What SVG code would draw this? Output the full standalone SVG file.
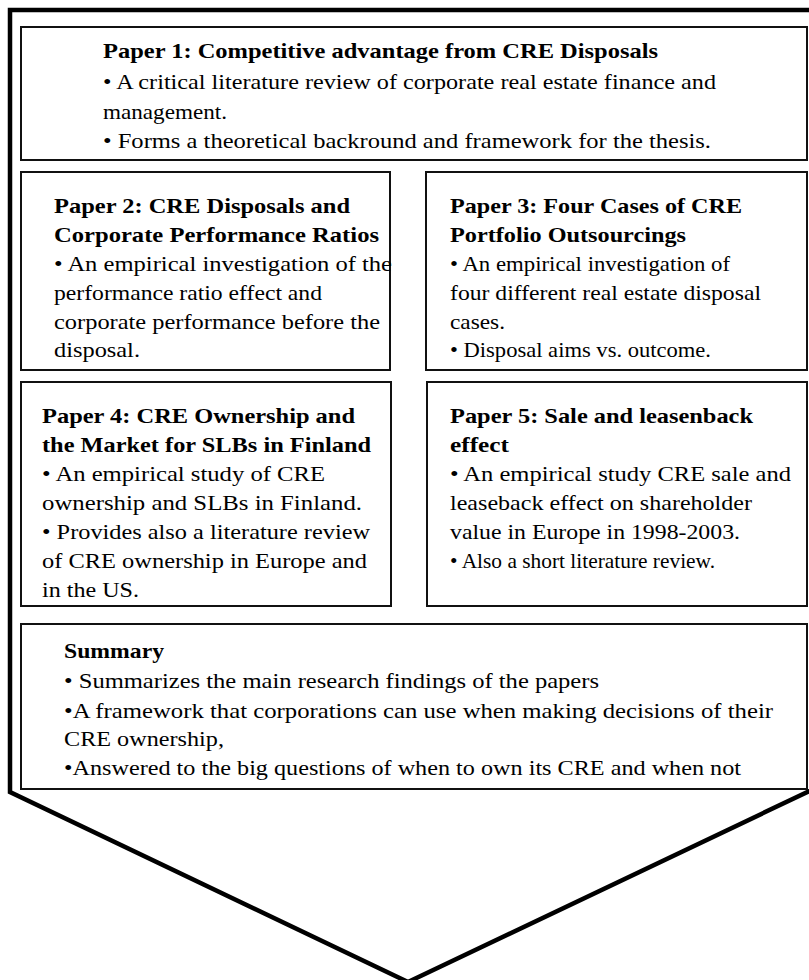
<svg xmlns="http://www.w3.org/2000/svg" width="809" height="980" viewBox="0 0 809 980">
<style>
.box{fill:#fff;stroke:#111;stroke-width:2}
.frame{fill:none;stroke:#000;stroke-width:4.5;stroke-linejoin:miter}
.t{font-family:'Liberation Serif','Times New Roman',Times,serif;font-size:22px;fill:#000}
.b{font-weight:bold}
</style>
<g id="frame"><path class="frame" d="M 820,10 L 10,10 L 10,792 L 408,982 L 820,786"/></g>
<g id="paper1" class="t" font-family="Liberation Serif, serif">
<rect class="box" x="21" y="27" width="786" height="133"/>
<text class="b" x="103" y="58" textLength="555" lengthAdjust="spacingAndGlyphs">Paper 1: Competitive advantage from CRE Disposals</text>
<text x="103" y="89" textLength="613" lengthAdjust="spacingAndGlyphs">• A critical literature review of corporate real estate finance and</text>
<text x="103" y="119" textLength="124" lengthAdjust="spacingAndGlyphs">management.</text>
<text x="103" y="148" textLength="608" lengthAdjust="spacingAndGlyphs">• Forms a theoretical backround and framework for the thesis.</text>
</g>
<g id="paper2" class="t" font-family="Liberation Serif, serif">
<rect class="box" x="21" y="172" width="369" height="198"/>
<text class="b" x="54" y="213" textLength="296" lengthAdjust="spacingAndGlyphs">Paper 2: CRE Disposals and</text>
<text class="b" x="54" y="242" textLength="325" lengthAdjust="spacingAndGlyphs">Corporate Performance Ratios</text>
<text x="54" y="271" textLength="338" lengthAdjust="spacingAndGlyphs">• An empirical investigation of the</text>
<text x="54" y="300" textLength="268" lengthAdjust="spacingAndGlyphs">performance ratio effect and</text>
<text x="54" y="329" textLength="326" lengthAdjust="spacingAndGlyphs">corporate performance before the</text>
<text x="54" y="357" textLength="86" lengthAdjust="spacingAndGlyphs">disposal.</text>
</g>
<g id="paper3" class="t" font-family="Liberation Serif, serif">
<rect class="box" x="426" y="172" width="381" height="198"/>
<text class="b" x="450" y="213" textLength="292" lengthAdjust="spacingAndGlyphs">Paper 3: Four Cases of CRE</text>
<text class="b" x="450" y="242" textLength="236" lengthAdjust="spacingAndGlyphs">Portfolio Outsourcings</text>
<text x="450" y="271" textLength="280" lengthAdjust="spacingAndGlyphs">• An empirical investigation of</text>
<text x="450" y="300" textLength="311" lengthAdjust="spacingAndGlyphs">four different real estate disposal</text>
<text x="450" y="329" textLength="55" lengthAdjust="spacingAndGlyphs">cases.</text>
<text x="450" y="357" textLength="261" lengthAdjust="spacingAndGlyphs">• Disposal aims vs. outcome.</text>
</g>
<g id="paper4" class="t" font-family="Liberation Serif, serif">
<rect class="box" x="21" y="382" width="370" height="224"/>
<text class="b" x="42" y="423" textLength="313" lengthAdjust="spacingAndGlyphs">Paper 4: CRE Ownership and</text>
<text class="b" x="42" y="452" textLength="329" lengthAdjust="spacingAndGlyphs">the Market for SLBs in Finland</text>
<text x="42" y="481" textLength="283" lengthAdjust="spacingAndGlyphs">• An empirical study of CRE</text>
<text x="42" y="510" textLength="320" lengthAdjust="spacingAndGlyphs">ownership and SLBs in Finland.</text>
<text x="42" y="539" textLength="328" lengthAdjust="spacingAndGlyphs">• Provides also a literature review</text>
<text x="42" y="568" textLength="325" lengthAdjust="spacingAndGlyphs">of CRE ownership in Europe and</text>
<text x="42" y="597" textLength="97" lengthAdjust="spacingAndGlyphs">in the US.</text>
</g>
<g id="paper5" class="t" font-family="Liberation Serif, serif">
<rect class="box" x="427" y="382" width="380" height="224"/>
<text class="b" x="450" y="423" textLength="303" lengthAdjust="spacingAndGlyphs">Paper 5: Sale and leasenback</text>
<text class="b" x="450" y="452" textLength="59" lengthAdjust="spacingAndGlyphs">effect</text>
<text x="450" y="481" textLength="341" lengthAdjust="spacingAndGlyphs">• An empirical study CRE sale and</text>
<text x="450" y="510" textLength="302" lengthAdjust="spacingAndGlyphs">leaseback effect on shareholder</text>
<text x="450" y="539" textLength="290" lengthAdjust="spacingAndGlyphs">value in Europe in 1998-2003.</text>
<text x="450" y="568" textLength="265" lengthAdjust="spacingAndGlyphs">• Also a short literature review.</text>
</g>
<g id="summary" class="t" font-family="Liberation Serif, serif">
<rect class="box" x="21" y="624" width="786" height="165"/>
<text class="b" x="64" y="658" textLength="100" lengthAdjust="spacingAndGlyphs">Summary</text>
<text x="64" y="688" textLength="535" lengthAdjust="spacingAndGlyphs">• Summarizes the main research findings of the papers</text>
<text x="64" y="718" textLength="709" lengthAdjust="spacingAndGlyphs">•A framework that corporations can use when making decisions of their</text>
<text x="64" y="746" textLength="160" lengthAdjust="spacingAndGlyphs">CRE ownership,</text>
<text x="64" y="775" textLength="677" lengthAdjust="spacingAndGlyphs">•Answered to the big questions of when to own its CRE and when not</text>
</g>
<g id="connectors"/>
</svg>
